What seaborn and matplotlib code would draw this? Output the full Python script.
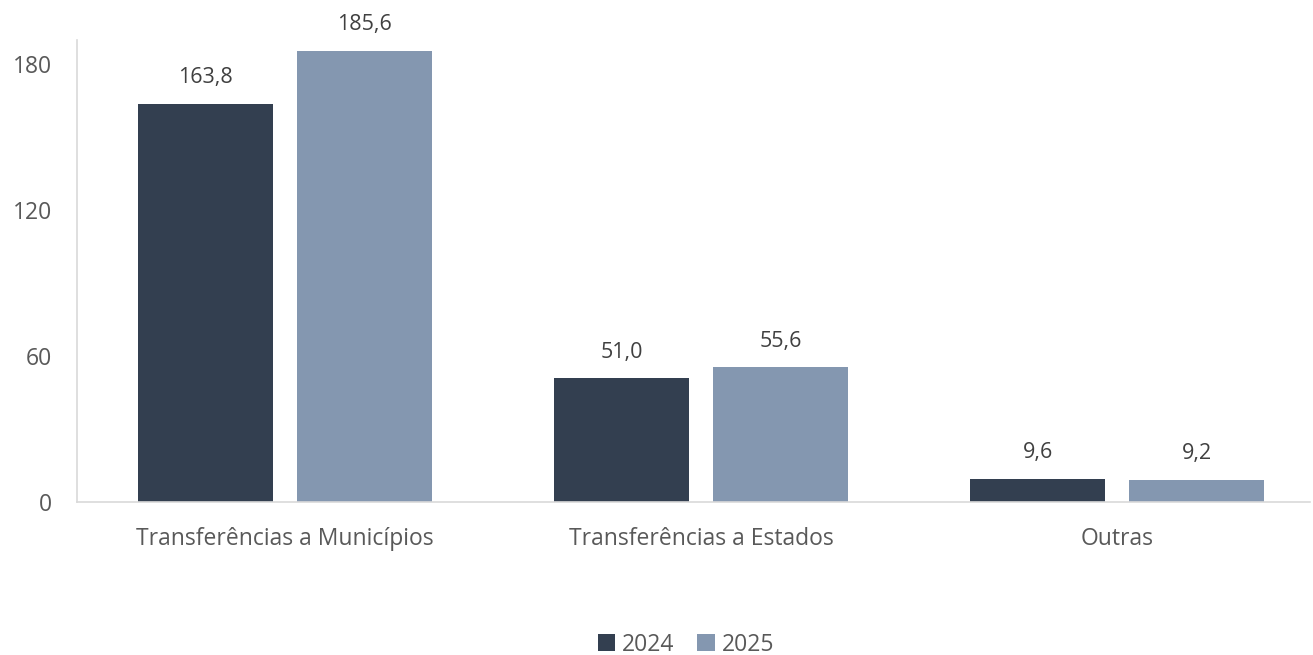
import matplotlib
matplotlib.use('Agg')
import matplotlib.pyplot as plt
import pandas as pd
import seaborn as sns

categories = ['Transferências a Municípios', 'Transferências a Estados', 'Outras']
anos = ['2024', '2025']
valores_2024 = [163.8, 51.0, 9.6]
valores_2025 = [185.6, 55.6, 9.2]
yticks = [0, 60, 120, 180]

df = pd.DataFrame({
    'categoria': categories * 2,
    'ano': [anos[0]] * 3 + [anos[1]] * 3,
    'valor': valores_2024 + valores_2025,
})

sns.set_theme(style='white')
plt.rcParams['font.family'] = ['Open Sans', 'DejaVu Sans']
cinza = '#595959'

fig = plt.figure(figsize=(13.13, 6.55), dpi=100)
ax = fig.add_axes([77 / 1313, 1 - 502 / 655, (1310 - 77) / 1313, (502 - 40) / 655])

sns.barplot(data=df, x='categoria', y='valor', hue='ano', order=categories,
            hue_order=anos, palette=['#333F50', '#8497B0'], width=0.764,
            gap=0.151, saturation=1, linewidth=0, ax=ax, legend=True)

for cont in ax.containers:
    ax.bar_label(cont, labels=[f'{v:.1f}'.replace('.', ',') for v in cont.datavalues],
                 padding=11, fontsize=15.5, color='#404040')

ax.set_xlim(-0.5, -0.5 + (1310 - 77) / 416)
ax.set_ylim(0, 190)
ax.set_yticks(yticks)
ax.set_xlabel('')
ax.set_ylabel('')
ax.tick_params(axis='both', length=0, labelsize=16.5, colors=cinza)
ax.tick_params(axis='x', pad=18)
ax.tick_params(axis='y', pad=18)
for s in ['top', 'right']:
    ax.spines[s].set_visible(False)
for s in ['left', 'bottom']:
    ax.spines[s].set_color('#D9D9D9')
    ax.spines[s].set_linewidth(1.2)

ax.legend(loc='center', bbox_to_anchor=(0.5 + (686 - 77 - 616.5) / 1233, -0.309),
          ncol=2, frameon=False, fontsize=16.5, labelcolor=cinza,
          handlelength=0.75, handleheight=0.75, handletextpad=0.3, columnspacing=1.0)

fig.savefig('out.png', dpi=100)
